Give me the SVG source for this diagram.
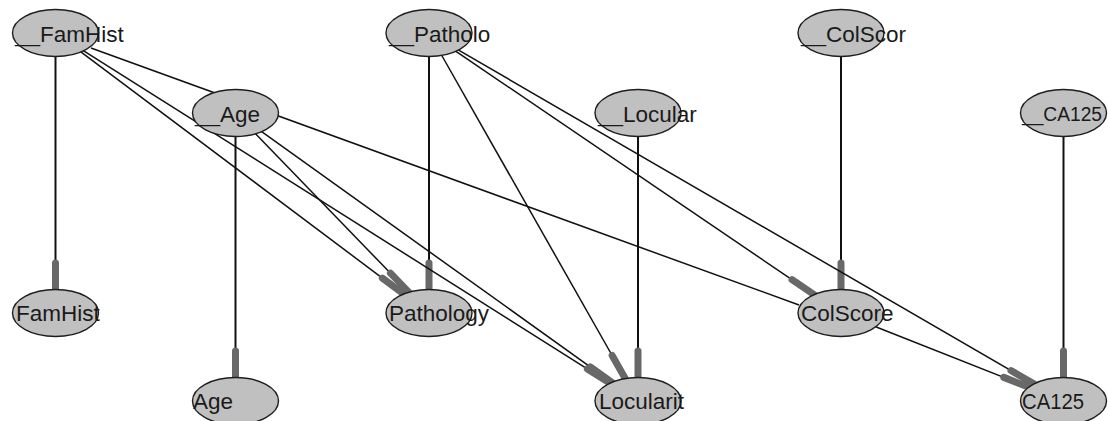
<svg xmlns="http://www.w3.org/2000/svg" width="1108" height="421" viewBox="0 0 1108 421">
  <style>
    .edge { fill: none; stroke: #111; stroke-width: 1.5; }
    .edge.v { stroke-width: 2; }
    .arr { marker-end: url(#bar); }
    .node ellipse { fill: #c0c0c0; stroke: #1e1e1e; stroke-width: 1.4; }
    .node text { font-family: "Liberation Sans", Arial, sans-serif; font-size: 22.5px; fill: #1a1a1a; }
    .node text.tight { font-size: 20px; }
  </style>
  <defs>
    <!-- thick grey bar that marks the head end of a connector -->
    <marker id="bar" markerUnits="userSpaceOnUse" markerWidth="40" markerHeight="12" refX="30" refY="6" orient="auto" overflow="visible">
      <line x1="3" y1="6" x2="30" y2="6" stroke="#686868" stroke-width="7" stroke-linecap="round"/>
    </marker>
  </defs>

  <g id="connectors">
    <path class="edge v arr" d="M55.5,56 V290"/>
    <path class="edge v arr" d="M235.5,136 V378"/>
    <path class="edge v arr" d="M429,56 V290"/>
    <path class="edge v arr" d="M638,136 V378"/>
    <path class="edge v arr" d="M841,56 V290"/>
    <path class="edge v arr" d="M1063.5,136 V378"/>
    <path class="edge arr" d="M80.5,51.7 L404,294.3"/>
    <path class="edge arr" d="M83.3,50.6 L610.2,383.4"/>
    <path class="edge" d="M91,48 L799,305"/>
    <path class="edge arr" d="M255.3,133.4 L409.2,292.6"/>
    <path class="edge arr" d="M261.3,131.4 L612.2,382.6"/>
    <path class="edge arr" d="M441.5,55 L625.5,379"/>
    <path class="edge arr" d="M455.6,51.1 L814.4,294.9"/>
    <path class="edge arr" d="M458.2,49.9 L1034.3,384.1"/>
    <path class="edge arr" d="M875.6,326.7 L1028.9,387.3"/>
  </g>

  <g id="n__FamHist" class="node"><ellipse cx="55.5" cy="33" rx="43" ry="23.5"/><text x="15" y="42">__FamHist</text></g>
  <g id="n__Age" class="node"><ellipse cx="235.5" cy="113" rx="43" ry="23.5"/><text x="195" y="122">__Age</text></g>
  <g id="n__Patholo" class="node"><ellipse cx="429" cy="33" rx="43" ry="23.5"/><text x="389" y="42">__Patholo</text></g>
  <g id="n__Locular" class="node"><ellipse cx="638" cy="113" rx="43" ry="23.5"/><text x="598" y="122">__Locular</text></g>
  <g id="n__ColScor" class="node"><ellipse cx="841" cy="33" rx="43" ry="23.5"/><text x="801" y="42">__ColScor</text></g>
  <g id="n__CA125" class="node"><ellipse cx="1063.5" cy="113" rx="43" ry="23.5"/><text class="tight" x="1022" y="121" textLength="80" lengthAdjust="spacingAndGlyphs">__CA125</text></g>

  <g id="n_FamHist" class="node"><ellipse cx="55.5" cy="313" rx="43" ry="23.5"/><text x="16" y="321">FamHist</text></g>
  <g id="n_Age" class="node"><ellipse cx="235.5" cy="401" rx="43" ry="23.5"/><text x="193" y="409">Age</text></g>
  <g id="n_Pathology" class="node"><ellipse cx="429" cy="313" rx="43" ry="23.5"/><text x="389" y="321">Pathology</text></g>
  <g id="n_Locularit" class="node"><ellipse cx="638" cy="401" rx="43" ry="23.5"/><text x="599" y="409">Locularit</text></g>
  <g id="n_ColScore" class="node"><ellipse cx="841" cy="313" rx="43" ry="23.5"/><text x="801" y="321">ColScore</text></g>
  <g id="n_CA125" class="node"><ellipse cx="1063.5" cy="401" rx="43" ry="23.5"/><text x="1022" y="409" textLength="62" lengthAdjust="spacingAndGlyphs">CA125</text></g>
</svg>
